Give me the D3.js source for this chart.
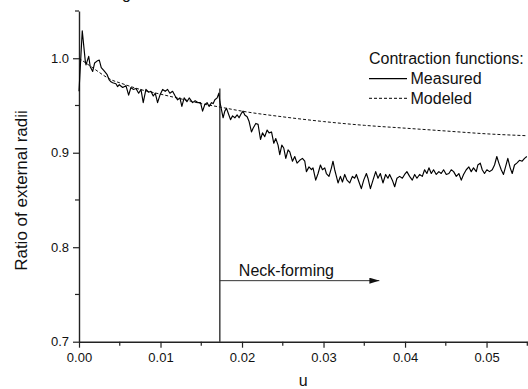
<!DOCTYPE html>
<html>
<head>
<meta charset="utf-8">
<script src="https://cdn.jsdelivr.net/npm/d3@7"></script>
<style>
  html, body { margin: 0; padding: 0; background: #fff; }
  svg { display: block; font-family: Arial, "Liberation Sans", sans-serif; }
</style>
</head>
<body>
<svg id="chart" width="528" height="389"></svg>
<script>
// measured contraction function: [u, ratio]
const measured = [
  [0, 0.965], [0.0004, 1.029], [0.00077, 0.997], [0.00086, 0.993], [0.00119, 1.002],
  [0.00138, 0.991], [0.00168, 0.986], [0.00192, 0.995], [0.00221, 0.997], [0.00249, 0.998],
  [0.00273, 0.990], [0.00306, 0.987], [0.00343, 0.983], [0.00371, 0.977], [0.00392, 0.975],
  [0.00413, 0.974], [0.00453, 0.973], [0.00474, 0.970], [0.00494, 0.972], [0.00536, 0.969],
  [0.00576, 0.971], [0.00609, 0.961], [0.00637, 0.969], [0.00665, 0.967], [0.00699, 0.968],
  [0.00732, 0.963], [0.0076, 0.967], [0.00788, 0.953], [0.00821, 0.967], [0.00854, 0.964],
  [0.00882, 0.965], [0.00911, 0.960], [0.00935, 0.963], [0.00964, 0.953], [0.00993, 0.961],
  [0.01026, 0.967], [0.01058, 0.965], [0.01087, 0.967], [0.01115, 0.963], [0.01148, 0.965],
  [0.0118, 0.960], [0.0121, 0.956], [0.01238, 0.958], [0.01262, 0.949], [0.0129, 0.958],
  [0.01324, 0.954], [0.01352, 0.958], [0.01393, 0.953], [0.01425, 0.955], [0.01462, 0.953],
  [0.01491, 0.953], [0.01516, 0.944], [0.01544, 0.951], [0.01572, 0.953], [0.01597, 0.949],
  [0.01626, 0.953], [0.01646, 0.952], [0.01667, 0.956], [0.01695, 0.958], [0.01716, 0.963],
  [0.01728, 0.954], [0.01749, 0.945], [0.01768, 0.937], [0.01789, 0.944], [0.0181, 0.947],
  [0.0183, 0.942], [0.01859, 0.935], [0.01884, 0.939], [0.01912, 0.937], [0.0194, 0.940],
  [0.01964, 0.937], [0.01994, 0.942], [0.02013, 0.944], [0.02034, 0.940], [0.02063, 0.938],
  [0.02087, 0.933], [0.02116, 0.922], [0.02136, 0.926], [0.02169, 0.931], [0.02197, 0.930],
  [0.02227, 0.914], [0.02251, 0.921], [0.02279, 0.917], [0.02308, 0.924], [0.02332, 0.921],
  [0.02362, 0.922], [0.0239, 0.910], [0.02414, 0.915], [0.02442, 0.908], [0.02463, 0.898],
  [0.02488, 0.908], [0.02512, 0.905], [0.02537, 0.894], [0.02565, 0.903], [0.02586, 0.901],
  [0.02619, 0.891], [0.02647, 0.896], [0.02675, 0.889], [0.02708, 0.892], [0.02741, 0.894],
  [0.0277, 0.891], [0.0279, 0.880], [0.02822, 0.885], [0.02852, 0.882], [0.02871, 0.884],
  [0.02904, 0.871], [0.02933, 0.878], [0.02962, 0.887], [0.02987, 0.882], [0.03015, 0.884],
  [0.03035, 0.878], [0.03067, 0.875], [0.03097, 0.884], [0.03116, 0.891], [0.03137, 0.882],
  [0.03158, 0.875], [0.03178, 0.868], [0.03207, 0.875], [0.03232, 0.869], [0.0326, 0.877],
  [0.03288, 0.871], [0.03321, 0.868], [0.03354, 0.875], [0.03382, 0.873], [0.03403, 0.877],
  [0.03435, 0.869], [0.03464, 0.862], [0.03493, 0.871], [0.03526, 0.878], [0.03545, 0.873],
  [0.03575, 0.862], [0.03607, 0.871], [0.0364, 0.880], [0.03668, 0.873], [0.03697, 0.878],
  [0.03729, 0.868], [0.03762, 0.877], [0.0379, 0.873], [0.03811, 0.877], [0.03844, 0.871],
  [0.03873, 0.864], [0.03901, 0.873], [0.03934, 0.875], [0.03967, 0.873], [0.03995, 0.877],
  [0.04023, 0.880], [0.04056, 0.875], [0.04089, 0.871], [0.04118, 0.877], [0.04146, 0.873],
  [0.04179, 0.877], [0.04212, 0.875], [0.0424, 0.882], [0.04268, 0.878], [0.04293, 0.884],
  [0.04322, 0.878], [0.0435, 0.882], [0.04383, 0.877], [0.04415, 0.880], [0.04444, 0.878],
  [0.04473, 0.882], [0.04506, 0.877], [0.04538, 0.878], [0.04567, 0.882], [0.04596, 0.880],
  [0.04629, 0.875], [0.0466, 0.878], [0.0469, 0.871], [0.04718, 0.877], [0.04751, 0.882],
  [0.04783, 0.885], [0.04812, 0.880], [0.0484, 0.884], [0.04874, 0.880], [0.04893, 0.887],
  [0.04923, 0.889], [0.04947, 0.882], [0.04975, 0.878], [0.05004, 0.882], [0.05037, 0.880],
  [0.0507, 0.882], [0.05098, 0.887], [0.05126, 0.896], [0.05151, 0.889], [0.0518, 0.882],
  [0.05208, 0.877], [0.05233, 0.885], [0.05261, 0.894], [0.0529, 0.884], [0.05315, 0.878],
  [0.05343, 0.887], [0.05371, 0.889], [0.05404, 0.892], [0.05437, 0.891], [0.05466, 0.894],
  [0.05494, 0.896]
];

// modeled contraction function
const modeled = [
  [0, 1.000], [0.001, 0.994], [0.002, 0.988], [0.003, 0.982], [0.004, 0.977],
  [0.005, 0.974], [0.0075, 0.967], [0.01, 0.962], [0.0125, 0.957], [0.015, 0.952],
  [0.0175, 0.948], [0.02, 0.944], [0.025, 0.938], [0.03, 0.933], [0.035, 0.929],
  [0.04, 0.926], [0.045, 0.923], [0.05, 0.920], [0.055, 0.918]
];

const xTicks = [0, 0.01, 0.02, 0.03, 0.04, 0.05];
const xMinorTicks = [0.005, 0.015, 0.025, 0.035, 0.045, 0.055];
const yTicks = [0.7, 0.8, 0.9, 1.0];
const yMinorTicks = [0.75, 0.85, 0.95, 1.05];

// neck-forming onset and the arrow's end
const neckU = 0.01728;
const neckTop = 0.968;
const arrowLevel = 0.7646;
const arrowEndU = 0.03685;

const svg = d3.select('#chart');
const width = 528;
const height = 389;
const margin = { top: 11, right: 0.7, bottom: 47.3, left: 79 };

const x = d3.scaleLinear()
    .domain([0, 0.055])
    .range([margin.left, width - margin.right]);
const y = d3.scaleLinear()
    .domain([0.7, 1.05])
    .range([height - margin.bottom, margin.top]);

const axisColor = '#222';

// x axis
const gx = svg.append('g')
    .attr('transform', `translate(0,${y(0.7)})`);
gx.call(d3.axisBottom(x).tickValues(xTicks).tickFormat(d3.format('.2f')).tickSize(6).tickSizeOuter(0).tickPadding(5))
    .call(g => g.select('.domain').attr('stroke', axisColor).attr('stroke-width', 1.4))
    .call(g => g.selectAll('.tick line').attr('stroke', axisColor).attr('stroke-width', 1.2))
    .call(g => g.selectAll('text').attr('font-size', 13).attr('fill', '#111').attr('font-family', 'Arial, "Liberation Sans", sans-serif'));
gx.selectAll('.minor')
    .data(xMinorTicks)
    .join('line')
    .attr('class', 'minor')
    .attr('x1', d => x(d)).attr('x2', d => x(d))
    .attr('y1', 0).attr('y2', 4)
    .attr('stroke', axisColor).attr('stroke-width', 1.2);

// y axis
const gy = svg.append('g')
    .attr('transform', `translate(${x(0)},0)`);
gy.call(d3.axisLeft(y).tickValues(yTicks).tickFormat(d3.format('.1f')).tickSize(6).tickSizeOuter(0).tickPadding(4))
    .call(g => g.select('.domain').attr('stroke', axisColor).attr('stroke-width', 1.4))
    .call(g => g.selectAll('.tick line').attr('stroke', axisColor).attr('stroke-width', 1.2))
    .call(g => g.selectAll('text').attr('font-size', 13).attr('fill', '#111').attr('font-family', 'Arial, "Liberation Sans", sans-serif'));
gy.selectAll('.minor')
    .data(yMinorTicks)
    .join('line')
    .attr('class', 'minor')
    .attr('x1', -4).attr('x2', 0)
    .attr('y1', d => y(d)).attr('y2', d => y(d))
    .attr('stroke', axisColor).attr('stroke-width', 1.2);

// axis titles
svg.append('text')
    .attr('transform', `translate(27,${y(0.86)}) rotate(-90)`)
    .attr('text-anchor', 'middle')
    .attr('font-size', 17)
    .attr('fill', '#111')
    .text('Ratio of external radii');

svg.append('text')
    .attr('x', x(0.0275))
    .attr('y', 386)
    .attr('text-anchor', 'middle')
    .attr('font-size', 16)
    .attr('fill', '#111')
    .text('u');

// cut-off heading fragment at the very top
svg.append('text')
    .attr('x', 122)
    .attr('y', -1)
    .attr('font-size', 16)
    .attr('fill', '#111')
    .text('g');

svg.append('path')
    .datum(modeled)
    .attr('fill', 'none')
    .attr('stroke', '#111')
    .attr('stroke-width', 1)
    .attr('stroke-dasharray', '3,2')
    .attr('d', d3.line().x(d => x(d[0])).y(d => y(d[1])).curve(d3.curveMonotoneX));

svg.append('path')
    .datum(measured)
    .attr('fill', 'none')
    .attr('stroke', '#000')
    .attr('stroke-width', 1.15)
    .attr('stroke-linejoin', 'round')
    .attr('d', d3.line().x(d => x(d[0])).y(d => y(d[1])));

// neck-forming marker
svg.append('line')
    .attr('x1', x(neckU)).attr('x2', x(neckU))
    .attr('y1', y(0.7)).attr('y2', y(neckTop))
    .attr('stroke', '#111').attr('stroke-width', 1.2);

svg.append('defs').append('marker')
    .attr('id', 'arrow')
    .attr('viewBox', '0 0 10 6')
    .attr('refX', 10).attr('refY', 3)
    .attr('markerWidth', 10).attr('markerHeight', 6)
    .attr('markerUnits', 'userSpaceOnUse')
    .attr('orient', 'auto')
    .append('path')
    .attr('d', 'M0,0L10,3L0,6Z')
    .attr('fill', '#111');

svg.append('line')
    .attr('x1', x(neckU)).attr('x2', x(arrowEndU))
    .attr('y1', y(arrowLevel)).attr('y2', y(arrowLevel))
    .attr('stroke', '#333').attr('stroke-width', 1)
    .attr('marker-end', 'url(#arrow)');

svg.append('text')
    .attr('x', x(neckU) + 19)
    .attr('y', y(arrowLevel) - 5)
    .attr('font-size', 16)
    .attr('fill', '#111')
    .text('Neck-forming');

// legend
const legend = svg.append('g').attr('transform', 'translate(369,0)');
legend.append('text')
    .attr('x', 0).attr('y', 64)
    .attr('font-size', 16).attr('fill', '#111')
    .text('Contraction functions:');
legend.append('line')
    .attr('x1', 0).attr('x2', 38).attr('y1', 78.7).attr('y2', 78.7)
    .attr('stroke', '#000').attr('stroke-width', 1.2);
legend.append('text')
    .attr('x', 41.5).attr('y', 84.3)
    .attr('font-size', 16).attr('fill', '#111')
    .text('Measured');
legend.append('line')
    .attr('x1', 0).attr('x2', 38).attr('y1', 98.3).attr('y2', 98.3)
    .attr('stroke', '#000').attr('stroke-width', 1)
    .attr('stroke-dasharray', '3,2');
legend.append('text')
    .attr('x', 41.5).attr('y', 104)
    .attr('font-size', 16).attr('fill', '#111')
    .text('Modeled');
</script>
</body>
</html>
